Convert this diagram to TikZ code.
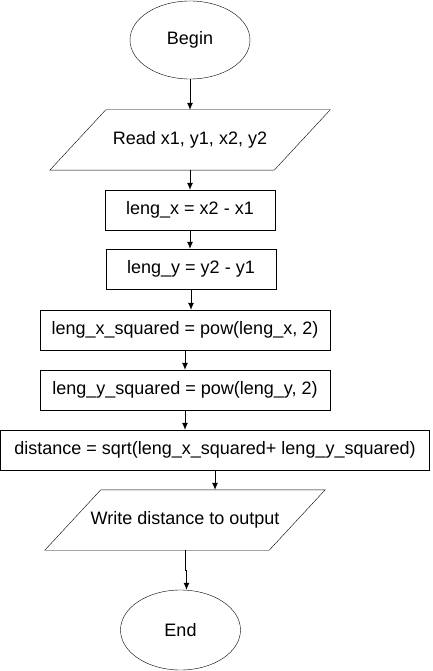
\documentclass[tikz,border=0pt]{standalone}
\usepackage{fontspec}
\setmainfont{Liberation Sans}
\usetikzlibrary{arrows.meta,shapes.geometric}

\begin{document}
\begin{tikzpicture}[x=1pt,y=-1pt,font=\fontsize{18}{21}\selectfont,terminal/.style={ellipse,draw,minimum width=120pt,minimum height=78pt,inner sep=0pt},io/.style={rectangle,minimum width=224pt,minimum height=60pt,inner sep=0pt},process/.style={rectangle,draw,minimum height=40pt,inner sep=0pt},flow/.style={-{Latex[length=7pt,width=6pt]},line width=.8pt}]
  \useasboundingbox (0,0) rectangle (432,671);
  \node[terminal] (start) at (190,40) {Begin};
  \node[io] (read) at (190,140) {Read x1, y1, x2, y2};
  \node[process,minimum width=170pt] (lengx) at (190,210) {leng\_x = x2 - x1};
  \node[process,minimum width=170pt] (lengy) at (191,269) {leng\_y = y2 - y1};
  \node[process,minimum width=290pt] (lengxsq) at (185,330) {leng\_x\_squared = pow(leng\_x, 2)};
  \node[process,minimum width=290pt] (lengysq) at (185,390) {leng\_y\_squared = pow(leng\_y, 2)};
  \node[process,minimum width=429pt] (dist) at (215,450) {distance = sqrt(leng\_x\_squared+ leng\_y\_squared)};
  \node[io] (write) at (185,520) {Write distance to output};
  \node[terminal,minimum height=80pt] (stop) at (180.5,630) {End};
  % parallelogram outlines
  \foreach \n in {read,write}
    \draw ([xshift=28pt]\n.north west) -- ([xshift=28pt]\n.north east) -- ([xshift=-28pt]\n.south east) -- ([xshift=-28pt]\n.south west) -- cycle;
  \draw[flow] (start.south) -- (start.south |- read.north);
  \draw[flow] (read.south) -- (read.south |- lengx.north);
  \draw[flow] (lengx.south) -- (lengx.south |- lengy.north);
  \draw[flow] (lengy.south) -- (lengy.south |- lengxsq.north);
  \draw[flow] (lengxsq.south) -- (lengxsq.south |- lengysq.north);
  \draw[flow] (lengysq.south) -- (lengysq.south |- dist.north);
  \draw[flow] (dist.south) -- (dist.south |- write.north);
  \draw[flow] (write.south) -- ++(0,20) -| ([xshift=6pt]stop.north);
\end{tikzpicture}
\end{document}
